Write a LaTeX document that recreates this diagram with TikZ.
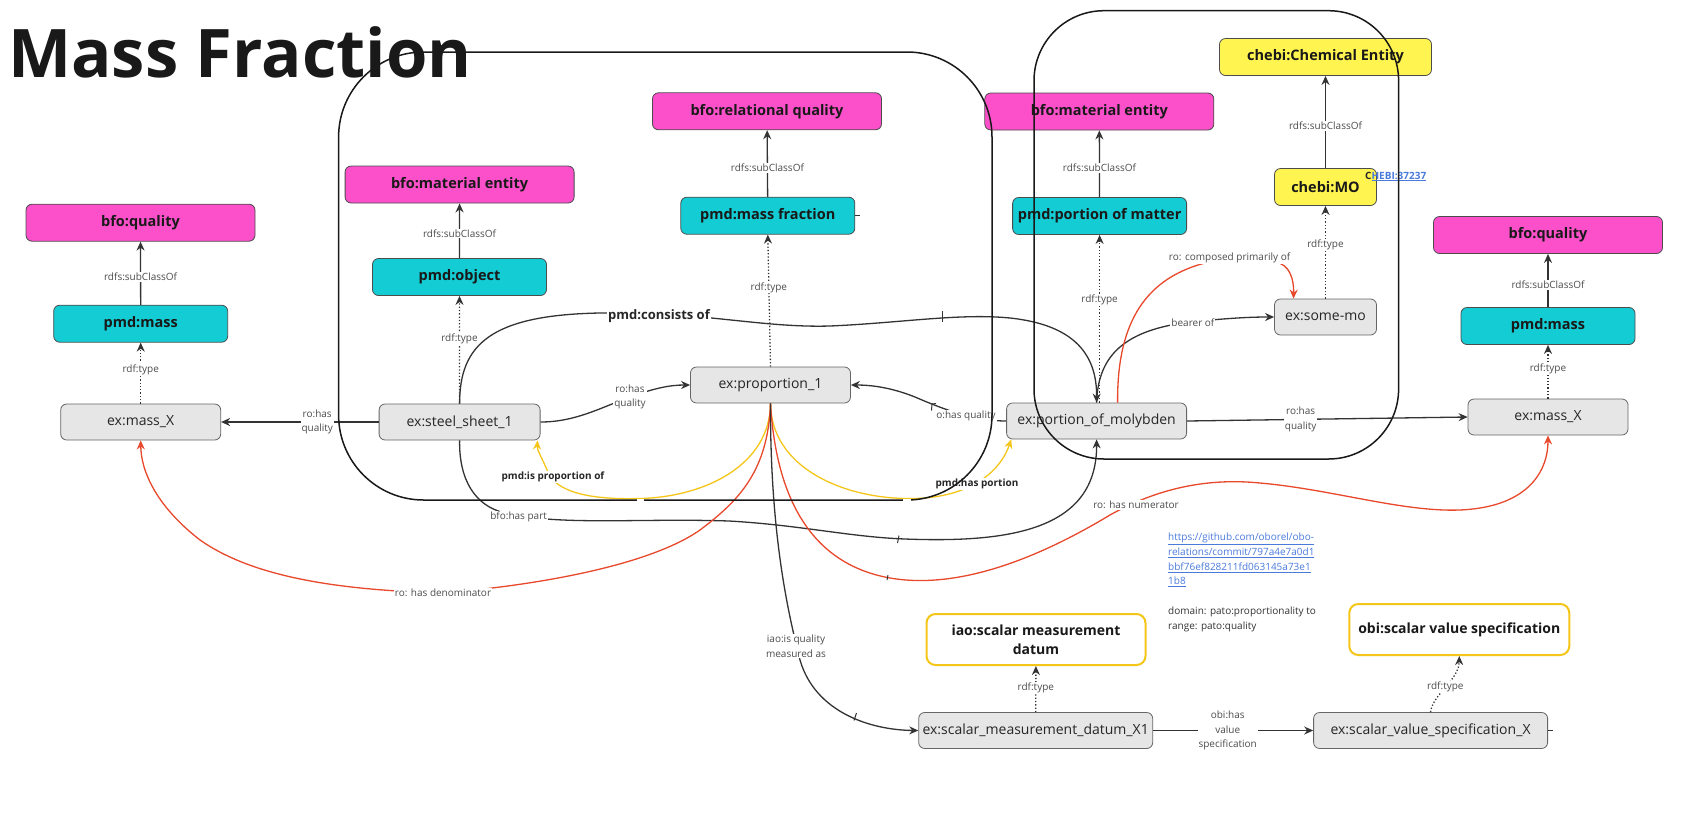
\documentclass[tikz,border=0pt]{standalone}
\usepackage{fontspec}
\setmainfont{Open Sans}
\usetikzlibrary{arrows.meta}
\definecolor{mag}{HTML}{FC50CB}
\definecolor{tealc}{HTML}{14CCD3}
\definecolor{yel}{HTML}{FFF450}
\definecolor{yelb}{HTML}{F5C61A}
\definecolor{redl}{HTML}{E8482B}
\definecolor{grayf}{HTML}{E6E6E6}
\definecolor{edgec}{HTML}{333333}
\definecolor{linkb}{HTML}{4A7BDC}
\tikzset{
  classbox/.style={draw=black!70, line width=0.8pt, rounded corners=6pt, minimum width=229pt, minimum height=37pt, font=\fontsize{14.5}{17}\selectfont\bfseries, text=black!90, inner sep=0pt},
  magbox/.style={classbox, fill=mag},
  tealbox/.style={classbox, fill=tealc, minimum width=174pt},
  yelbox/.style={classbox, fill=yel},
  indiv/.style={draw=black!60, fill=grayf, line width=0.8pt, rounded corners=6pt, minimum height=36pt, font=\fontsize{14}{17}\selectfont, text=black!85, inner sep=0pt},
  outbox/.style={draw=yelb, line width=2pt, fill=white, rounded corners=9pt, minimum height=51pt, font=\fontsize{14}{19}\selectfont\bfseries, text=black!90, align=center, inner sep=0pt},
  lbl/.style={font=\fontsize{10}{14.5}\selectfont, text=black!70, fill=white, inner sep=1pt, align=center},
  blbl/.style={lbl, font=\fontsize{10}{14}\selectfont\bfseries, text=black!85},
  conn/.style={draw=edgec, line width=1.3pt, -{Stealth[length=9pt,width=8pt]}},
  typ/.style={conn, dotted},
  rconn/.style={conn, draw=redl},
  yconn/.style={conn, draw=yelb},
  container/.style={draw=black!90, line width=1.5pt},
  tick/.style={draw=edgec, line width=1pt},
  gap/.style={draw=white, line width=3pt},
}
\begin{document}
\begin{tikzpicture}[x=1pt,y=-1pt]
\fill[white] (0,0) rectangle (1690,820);
\useasboundingbox (0,0) rectangle (1690,820);

% title
\node[anchor=base west, font=\fontsize{67}{70}\selectfont\bfseries, text=black!90, inner sep=0pt] (title) at (8,77) {Mass Fraction};

% nodes
\node[magbox] (bqL) at (140.5,222.7) {bfo:quality};
\node[tealbox] (pmL) at (140.7,323.7) {pmd:mass};
\node[indiv, minimum width=160pt] (mxL) at (140.7,422) {ex:mass\_X};
\node[magbox] (bmL) at (459.6,184.5) {bfo:material entity};
\node[tealbox] (pob) at (459.5,277) {pmd:object};
\node[indiv, minimum width=161pt] (steel) at (459.6,422) {ex:steel\_sheet\_1};
\node[magbox] (brq) at (767,111.3) {bfo:relational quality};
\node[tealbox] (pmf) at (767.8,215.7) {pmd:mass fraction};
\node[indiv, minimum width=160pt] (prop) at (770.5,385) {ex:proportion\_1};
\node[magbox] (bmR) at (1099.3,111.5) {bfo:material entity};
\node[tealbox] (ppm) at (1099.6,216) {pmd:portion of matter};
\node[indiv, minimum width=180pt] (moly) at (1096.6,421) {ex:portion\_of\_molybden};
\node[yelbox, minimum width=212pt] (cce) at (1325.5,57) {chebi:Chemical Entity};
\node[yelbox, minimum width=102pt] (cmo) at (1325.5,187) {chebi:MO};
\node[indiv, minimum width=102pt] (smo) at (1325.5,317) {ex:some-mo};
\node[magbox] (bqR) at (1548,235) {bfo:quality};
\node[tealbox] (pmR) at (1548,326) {pmd:mass};
\node[indiv, minimum width=160pt] (mxR) at (1548,417) {ex:mass\_X};
\node[outbox, minimum width=219pt] (iao) at (1036,639.5) {iao:scalar measurement\\datum};
\node[indiv, minimum width=234pt] (smd) at (1035.7,730.5) {ex:scalar\_measurement\_datum\_X1};
\node[outbox, minimum width=220pt] (obi) at (1459.3,629.5) {obi:scalar value specification};
\node[indiv, minimum width=234pt] (svs) at (1430.6,730.5) {ex:scalar\_value\_specification\_X};

% hierarchy edges
\draw[conn] (pmL) -- node[lbl, pos=0.44] (l1) {rdfs:subClassOf} (bqL);
\draw[typ] (mxL) -- node[lbl, pos=0.56] (l2) {rdf:type} (pmL);
\draw[typ] (steel) -- node[lbl, pos=0.6] (l3) {rdf:type} (pob);
\draw[conn] (pob) -- node[lbl, pos=0.45] (l4) {rdfs:subClassOf} (bmL);
\draw[typ] (prop.north) -- node[lbl, pos=0.6] (l5) {rdf:type} (pmf.south);
\draw[conn] (pmf) -- node[lbl, pos=0.43] (l6) {rdfs:subClassOf} (brq);
\draw[typ] (ppm.south |- moly.north) -- node[lbl, pos=0.61] (l7) {rdf:type} (ppm.south);
\draw[conn] (ppm) -- node[lbl, pos=0.44] (l8) {rdfs:subClassOf} (bmR);
\draw[typ] (smo) -- node[lbl, pos=0.58] (l9) {rdf:type} (cmo);
\draw[conn] (cmo) -- node[lbl, pos=0.46] (l10) {rdfs:subClassOf} (cce);
\draw[typ] (mxR) -- node[lbl, pos=0.55] (l11) {rdf:type} (pmR);
\draw[conn] (pmR) -- node[lbl, pos=0.42] (l12) {rdfs:subClassOf} (bqR);
\draw[typ] (smd) -- node[lbl, pos=0.52] (l13) {rdf:type} (iao);
\draw[typ] (svs.north) .. controls (1432,695) and (1459,680) .. node[lbl, pos=0.5] (l14) {rdf:type} (obi.south);

% stubs
\coordinate (pmfstub) at (860,215.7);
\draw[draw=edgec, line width=1.3pt] (pmf.east) -- (pmfstub);
\coordinate (svsstub) at (1553,730.5);
\draw[draw=edgec, line width=1.3pt] (svs.east) -- (svsstub);

% straight relations
\draw[conn] (steel.west) -- node[lbl, pos=0.39] (l15) {ro:has\\quality} (mxL.east);
\draw[conn] (moly.east) -- node[lbl, pos=0.405] (l16) {ro:has\\quality} (mxR.west);
\draw[conn] (smd.east) -- node[lbl, pos=0.466] (l17) {obi:has\\value\\specification} (svs.west);

% curved relations
\draw[conn] (steel.east) .. controls (575,422) and (600,408) .. (630,397) .. controls (655,388) and (670,385) .. (prop.west);
\draw[conn] (moly.west) .. controls (975,421) and (945,410) .. (915,397) .. controls (890,387) and (870,385) .. (prop.east);
\draw[conn] (steel.north) .. controls (459.6,345) and (490,315) .. (600,313) .. controls (700,311) and (760,328) .. (830,326) .. controls (900,323) and (960,313) .. (1010,318) .. controls (1075,325) and (1097,355) .. (moly.north);
\draw[conn] (moly.north) .. controls (1098,355) and (1125,330) .. (1190,322) .. controls (1230,318) and (1250,317) .. (smo.west);
\draw[rconn] ([xshift=21pt]moly.north) .. controls (1117,330) and (1140,280) .. (1205,263) -- (1275,262) .. controls (1290,264) and (1294,280) .. ([xshift=-32pt]smo.north);
\draw[conn] (steel.south) .. controls (459,480) and (475,506) .. (505,513) .. controls (560,526) and (640,518) .. (729,521) .. controls (800,525) and (850,537) .. (905,539) .. controls (1010,543) and (1097,530) .. (moly.south);
\draw[yconn] (prop.south) .. controls (770,465) and (705,497) .. (640,498.5) .. controls (590,500) and (556,492) .. (548,472) .. controls (542,458) and (537,450) .. ([xshift=-3pt]steel.south east);
\draw[yconn] (prop.south) .. controls (771,465) and (838,497) .. (905,498.5) .. controls (960,500) and (998,478) .. ([xshift=5pt]moly.south west);
\draw[rconn] (prop.south) .. controls (768,470) and (740,500) .. (700,530) .. controls (650,565) and (540,585) .. (443,593) .. controls (330,590) and (250,575) .. (200,540) .. controls (155,505) and (141,470) .. (mxL.south);
\draw[rconn] (prop.south) .. controls (775,480) and (800,562) .. (890,578) .. controls (970,592) and (1060,545) .. (1110,515) .. controls (1160,487) and (1210,478) .. (1260,483) .. controls (1340,490) and (1420,518) .. (1480,508) .. controls (1530,500) and (1548,470) .. (mxR.south);
\draw[conn] (prop.south) .. controls (770,540) and (790,620) .. (800,660) .. controls (815,712) and (870,730) .. (smd.west);

% small line marks
\draw[tick] (942.5,311) -- (942.5,322);
\draw[tick] (899,535.5) -- (897.5,543);
\draw[tick] (888,575) -- (887,580);
\draw[tick] (856.5,713) -- (854,720.5);
\draw[tick] (931.5,410.5) -- (932,404) -- (936,403.5);

% curve labels
\node[lbl] (lsp) at (630,397) {ro:has\\quality};
\node[lbl] (lmp) at (966,416) {o:has quality};
\node[blbl, font=\fontsize{13}{15}\selectfont\bfseries] (lcons) at (659,315.7) {pmd:consists of};
\node[lbl] (lbear) at (1192.9,322.3) {bearer of};
\node[lbl] (lcomp) at (1229.6,258.3) {ro: composed primarily of};
\node[lbl] (lpart) at (518.6,517) {bfo:has part};
\node[blbl] (lipo) at (553,477) {pmd:is proportion of};
\node[blbl] (lhp) at (977,484) {pmd:has portion};
\node[lbl] (lden) at (443,593) {ro: has denominator};
\node[lbl] (lnum) at (1136,505) {ro: has numerator};
\node[lbl] (liao) at (796,646) {iao:is quality\\measured as};

% link & notes
\node[anchor=west, font=\fontsize{10}{12}\selectfont\bfseries, text=linkb, inner sep=0pt] (chebiid) at (1365,176.5) {{\color{black!85}C}\underline{HEBI:37237}};
\node[anchor=north west, align=left, font=\fontsize{10}{14.7}\selectfont, text=linkb, inner sep=0pt] (link) at (1168,533) {\underline{https://github.com/oborel/obo-}\\\underline{relations/commit/797a4e7a0d1}\\\underline{bbf76ef828211fd063145a73e1}\\\underline{1b8}};
\node[anchor=north west, align=left, font=\fontsize{10}{14.7}\selectfont, text=black!80, inner sep=0pt] (note) at (1168,606.5) {domain: pato:proportionality to\\range: pato:quality};

% containers
\draw[container, rounded corners=85pt] (338.6,52) rectangle (992,500);
\draw[container, rounded corners=70pt] (1034,10.7) rectangle (1398.6,459);
\draw[gap] (637,500) -- (643.5,500);
\draw[gap] (903,500) -- (911,500);
\end{tikzpicture}
\end{document}
